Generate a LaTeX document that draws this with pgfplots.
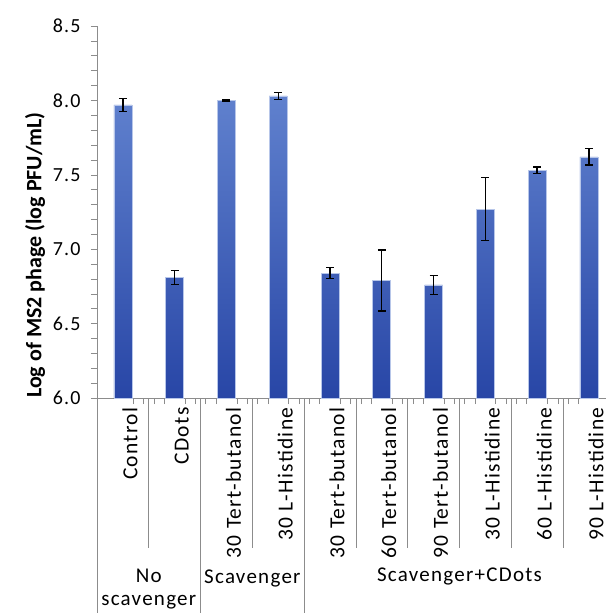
\documentclass[border=0pt]{standalone}
\usepackage{fontspec}
\setmainfont{Carlito}
\newfontfamily\spaced[LetterSpace=6]{Carlito}
\usepackage{pgfplots}
\pgfplotsset{compat=1.18}
\definecolor{bartop}{RGB}{96,129,206}
\definecolor{barbot}{RGB}{40,70,166}
\definecolor{axgray}{RGB}{140,140,140}

\pgfplotstableread{
x y e
0 7.97 0.045
1 6.81 0.045
2 8.00 0.005
3 8.03 0.022
4 6.84 0.035
5 6.79 0.205
6 6.76 0.065
7 7.27 0.21
8 7.53 0.022
9 7.62 0.055
}\phage

\begin{document}
\begin{tikzpicture}
\useasboundingbox (-97bp,-215bp) rectangle (509bp,398bp);
\begin{axis}[
    at={(0,0)}, anchor=south west,
    scale only axis,
    width=509bp, height=372bp,
    xmin=-0.5, xmax=9.33,
    ymin=6, ymax=8.5,
    clip=false,
    axis x line*=bottom, axis y line*=left,
    axis line style={axgray, line width=0.8pt, -},
    ytick={6,6.5,7,7.5,8,8.5},
    minor tick num=4,
    tick align=outside,
    major tick length=6bp, minor tick length=6bp,
    every tick/.style={axgray, line width=0.6pt},
    y tick label style={font=\spaced\fontsize{20bp}{22bp}\selectfont, xshift=-7bp},
    yticklabel style={/pgf/number format/.cd, fixed, fixed zerofill, precision=1, assume math mode=true},
    xtick={0,...,9},
    major x tick style={draw=none},
    xticklabels={Control, CDots, 30 Tert-butanol, 30 L-Histidine,
        30 Tert-butanol, 60 Tert-butanol, 90 Tert-butanol,
        30 L-Histidine, 60 L-Histidine, 90 L-Histidine},
    x tick label style={rotate=90, anchor=east, yshift=-7bp,
        font=\spaced\fontsize{21.5bp}{24bp}\selectfont},
]
\addplot[ybar, bar width=18bp, draw=bartop!45, line width=0.6pt,
    top color=bartop, bottom color=barbot]
    table[x=x, y=y] {\phage};
\addplot[draw=none, mark=none, forget plot,
    error bars/.cd, y dir=both, y explicit,
    error bar style={draw=black, line width=1.3pt},
    error mark options={rotate=90, mark size=4bp, line width=1.3pt, draw=black}]
    table[x=x, y=y, y error=e] {\phage};

% category separators below the axis
\draw[axgray, line width=0.8pt] (0.5,6) -- ++(0pt,-150bp);
\draw[axgray, line width=0.8pt] (2.5,6) -- ++(0pt,-150bp);
\draw[axgray, line width=0.8pt] (4.5,6) -- ++(0pt,-150bp);
\draw[axgray, line width=0.8pt] (5.5,6) -- ++(0pt,-150bp);
\draw[axgray, line width=0.8pt] (6.5,6) -- ++(0pt,-150bp);
\draw[axgray, line width=0.8pt] (7.5,6) -- ++(0pt,-150bp);
\draw[axgray, line width=0.8pt] (8.5,6) -- ++(0pt,-150bp);
\draw[axgray, line width=0.8pt] (-0.5,6) -- ++(0pt,-215bp);
\draw[axgray, line width=0.8pt] (1.5,6) -- ++(0pt,-215bp);
\draw[axgray, line width=0.8pt] (3.5,6) -- ++(0pt,-215bp);

\node[font=\spaced\fontsize{21bp}{23bp}\selectfont, align=center] at ([yshift=-191bp]0.5,6) {No\\scavenger};
\node[font=\spaced\fontsize{21bp}{23bp}\selectfont] at ([yshift=-180bp]2.5,6) {Scavenger};
\node[font=\spaced\fontsize{21bp}{23bp}\selectfont] at ([yshift=-178bp]6.5,6) {Scavenger+CDots};

\node[rotate=90, font=\bfseries\fontsize{22bp}{24bp}\selectfont]
    at ([xshift=-62bp]rel axis cs:0,0.384) {Log of MS2 phage (log PFU/mL)};
\end{axis}
\end{tikzpicture}
\end{document}
